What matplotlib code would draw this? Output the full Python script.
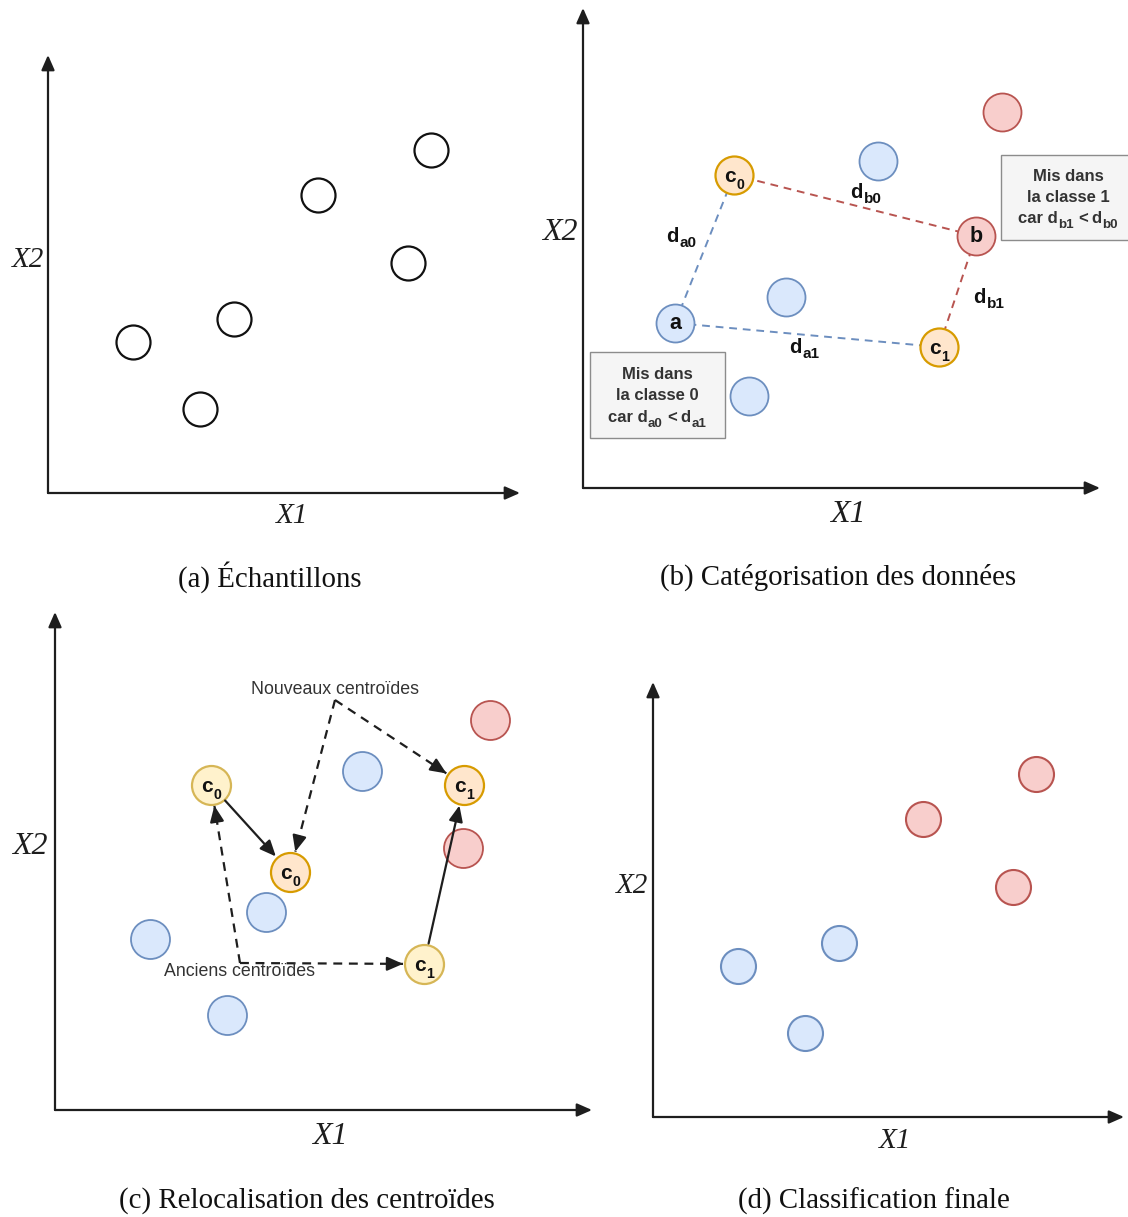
import matplotlib
matplotlib.use("Agg")
import numpy as np
import matplotlib.pyplot as plt
from matplotlib.patches import Rectangle

W, H, DPI = 1128, 1217, 100
PX = DPI / 72.0  # pixels per point

# ---- data (local X1 / X2 coordinates of each panel) ----
# (a) samples and (d) final classification share the same samples
sample_x1 = [85, 152, 186, 270, 360, 383]
sample_x2 = [151, 84, 174, 298, 230, 343]
final_class = [0, 0, 0, 1, 1, 1]

# (b) categorisation
b_blue_x1 = [295, 203, 166]
b_blue_x2 = [327, 191, 92]
b_red_x1 = [419]
b_red_x2 = [376]
point_a = (92, 165)
point_b = (393, 252)
b_c0 = (151, 313)
b_c1 = (356, 141)

# (c) relocation of centroids
c_blue_x1 = [307, 211, 95, 172]
c_blue_x2 = [339, 198, 171, 95]
c_red_x1 = [435, 408]
c_red_x2 = [390, 262]
old_c_x1 = [156, 369]
old_c_x2 = [325, 146]
new_c_x1 = [235, 409]
new_c_x2 = [238, 325]
nouveaux_pt = (280, 410)
anciens_pt = (185, 147)

captions = ["(a) Échantillons", "(b) Catégorisation des données",
            "(c) Relocalisation des centroïdes", "(d) Classification finale"]

BLUE_F, BLUE_E = '#dae8fc', '#6c8ebf'
RED_F, RED_E = '#f8cecc', '#b85450'
ORG_F, ORG_E = '#ffe6cc', '#d79b00'
YEL_F, YEL_E = '#fff2cc', '#d6b656'
AX_C = '#1e1e1e'
SANS = 'Liberation Sans'
SERIF = 'Liberation Serif'

fig = plt.figure(figsize=(W / DPI, H / DPI), dpi=DPI)
fig.patch.set_facecolor('white')
renderer = fig.canvas.get_renderer()


def make_panel(rect, origin):
    x0, y0, x1, y1 = rect
    ox, oy = origin
    ax = fig.add_axes([x0 / W, 1 - y1 / H, (x1 - x0) / W, (y1 - y0) / H])
    ax.set_xlim(x0 - ox, x1 - ox)
    ax.set_ylim(oy - y1, oy - y0)
    ax.axis('off')
    return ax


def draw_axes(ax, x_end, y_end, lab_x1, lab_x2, lab_size, cap_pos, caption):
    style = '-|>,head_length=0.75,head_width=0.33'
    for end in [(x_end, 0), (0, y_end)]:
        ax.annotate('', xy=end, xytext=(0, 0),
                    arrowprops=dict(arrowstyle=style, mutation_scale=12,
                                    lw=1.6, color=AX_C, shrinkA=0, shrinkB=0))
    ax.text(*lab_x1, 'X1', family=SERIF, style='italic',
            fontsize=lab_size, ha='center', va='center', color=AX_C)
    ax.text(*lab_x2, 'X2', family=SERIF, style='italic',
            fontsize=lab_size, ha='center', va='center', color=AX_C)
    ax.text(*cap_pos, caption, family=SERIF, fontsize=20.8,
            ha='center', va='center', color='#111111')


def runs_text(ax, x, y_base, runs, size, ratio=0.7, drop=0.32,
              color='#111111', weight='bold', z=6):
    """Write a line made of normal and subscript pieces, centred on x,
    with its baseline at y_base. Each run is (text, is_sub, gap_em)."""
    items = []
    total = 0.0
    for s, sub, gap in runs:
        fs = size * ratio if sub else size
        t = ax.annotate(s, xy=(x, y_base), xytext=(0, 0), textcoords='offset points',
                        fontsize=fs, family=SANS, fontweight=weight, color=color,
                        ha='left', va='baseline', zorder=z, annotation_clip=False)
        w = t.get_window_extent(renderer).width
        g = gap * size * PX
        items.append((t, sub, w, g))
        total += w + g
    cur = -total / 2
    for t, sub, w, g in items:
        dy = -drop * size if sub else 0.0
        t.set_position((cur / PX, dy))
        cur += w + g


def centroid_label(ax, cx, cy, idx, size=15):
    xh = 0.519 * size * PX
    runs_text(ax, cx, cy - xh / 2 - 1.5, [('c', False, 0.03), (str(idx), True, 0)],
              size, ratio=0.68, drop=0.33)


def s_of(r):
    return (2 * r * 72 / DPI) ** 2


def dots(ax, xs, ys, fc, ec, r, lw=1.3, z=3):
    ax.scatter(xs, ys, s=s_of(r), facecolor=fc, edgecolor=ec, linewidths=lw, zorder=z)


def arrow(ax, p0, p1, shrink_px, dashed=False):
    p0 = np.array(p0, float)
    p1 = np.array(p1, float)
    u = (p1 - p0) / np.linalg.norm(p1 - p0)
    end = p1 - u * shrink_px
    if dashed:
        ax.plot([p0[0], end[0]], [p0[1], end[1]], color=AX_C, lw=1.6,
                ls=(0, (4, 3)), zorder=2, solid_capstyle='butt')
        start = end - u * 12
    else:
        start = p0 + u * shrink_px
    ax.annotate('', xy=end, xytext=start,
                arrowprops=dict(arrowstyle='-|>,head_length=0.8,head_width=0.35',
                                mutation_scale=12, lw=1.6, color=AX_C,
                                shrinkA=0, shrinkB=0), zorder=4)


# ---- (a) ----
ax_a = make_panel((0, 0, 540, 600), (48, 493))
draw_axes(ax_a, 472, 438, (244, -23), (-20, 233), 21, (222, -84), captions[0])
dots(ax_a, sample_x1, sample_x2, 'white', '#111111', 17, lw=1.6)

# ---- (b) ----
ax_b = make_panel((540, 0, 1128, 600), (583, 488))
draw_axes(ax_b, 517, 480, (265, -26), (-23, 255), 23, (255, -89), captions[1])
dash = (0, (4, 3))
ax_b.plot([point_a[0], b_c0[0]], [point_a[1], b_c0[1]], color=BLUE_E, lw=1.4, ls=dash, zorder=1)
ax_b.plot([point_a[0], b_c1[0]], [point_a[1], b_c1[1]], color=BLUE_E, lw=1.4, ls=dash, zorder=1)
ax_b.plot([point_b[0], b_c0[0]], [point_b[1], b_c0[1]], color=RED_E, lw=1.4, ls=dash, zorder=1)
ax_b.plot([point_b[0], b_c1[0]], [point_b[1], b_c1[1]], color=RED_E, lw=1.4, ls=dash, zorder=1)
dots(ax_b, b_blue_x1, b_blue_x2, BLUE_F, BLUE_E, 19)
dots(ax_b, b_red_x1, b_red_x2, RED_F, RED_E, 19)
dots(ax_b, [point_a[0]], [point_a[1]], BLUE_F, BLUE_E, 19)
dots(ax_b, [point_b[0]], [point_b[1]], RED_F, RED_E, 19)
dots(ax_b, [b_c0[0], b_c1[0]], [b_c0[1], b_c1[1]], ORG_F, ORG_E, 19, lw=1.6)
ax_b.text(*point_a, 'a', fontsize=15.5, fontweight='bold', family=SANS,
          ha='center', va='center', zorder=5, color='#111111')
ax_b.text(*point_b, 'b', fontsize=15.5, fontweight='bold', family=SANS,
          ha='center', va='center', zorder=5, color='#111111')
centroid_label(ax_b, *b_c0, 0)
centroid_label(ax_b, *b_c1, 1)
for (lx, ly), sub in [((98, 246), 'a0'), ((283, 290), 'b0'),
                      ((406, 185), 'b1'), ((221, 135), 'a1')]:
    runs_text(ax_b, lx, ly, [('d', False, 0.05), (sub, True, 0)], 14.5,
              ratio=0.76, drop=0.27)

boxes = [
    ((418, 248, 135, 85), 485, [307, 286, 265], 'b1', 'b0', '1'),
    ((7, 50, 135, 86), 74, [109, 88, 66], 'a0', 'a1', '0'),
]
for (bx, by, bw, bh), tx, bases, s1, s2, cls in boxes:
    ax_b.add_patch(Rectangle((bx, by), bw, bh, facecolor='#f5f5f5', edgecolor='#8c8c8c',
                             lw=1.0, zorder=2, clip_on=False))
    kw = dict(size=12, ratio=0.8, drop=0.28, color='#333333')
    runs_text(ax_b, tx, bases[0], [('Mis dans', False, 0)], **kw)
    runs_text(ax_b, tx, bases[1], [('la classe ' + cls, False, 0)], **kw)
    runs_text(ax_b, tx, bases[2], [('car d', False, 0.04), (s1, True, 0.24),
                                   ('<', False, 0.24), ('d', False, 0.04),
                                   (s2, True, 0)], **kw)

# ---- (c) ----
ax_c = make_panel((0, 600, 610, 1217), (55, 1110))
draw_axes(ax_c, 537, 498, (275, -27), (-25, 264), 23, (252, -91), captions[2])
dots(ax_c, c_blue_x1, c_blue_x2, BLUE_F, BLUE_E, 19.5)
dots(ax_c, c_red_x1, c_red_x2, RED_F, RED_E, 19.5)
dots(ax_c, old_c_x1, old_c_x2, YEL_F, YEL_E, 19.5, lw=1.6)
dots(ax_c, new_c_x1, new_c_x2, ORG_F, ORG_E, 19.5, lw=1.6)
for i in range(2):
    centroid_label(ax_c, old_c_x1[i], old_c_x2[i], i)
    centroid_label(ax_c, new_c_x1[i], new_c_x2[i], i)
    arrow(ax_c, (old_c_x1[i], old_c_x2[i]), (new_c_x1[i], new_c_x2[i]), 21)
    arrow(ax_c, nouveaux_pt, (new_c_x1[i], new_c_x2[i]), 21, dashed=True)
    arrow(ax_c, anciens_pt, (old_c_x1[i], old_c_x2[i]), 21, dashed=True)
ax_c.text(280, 420, 'Nouveaux centroïdes', fontsize=12.8, family=SANS,
          color='#333333', ha='center', va='center', zorder=5)
ax_c.text(184, 138, 'Anciens centroïdes', fontsize=12.8, family=SANS,
          color='#333333', ha='center', va='center', zorder=5)

# ---- (d) ----
ax_d = make_panel((610, 600, 1128, 1217), (653, 1117))
draw_axes(ax_d, 471, 435, (242, -24), (-21, 231), 21, (221, -84), captions[3])
for cls, (fc, ec) in enumerate([(BLUE_F, BLUE_E), (RED_F, RED_E)]):
    xs = [x for x, c in zip(sample_x1, final_class) if c == cls]
    ys = [y for y, c in zip(sample_x2, final_class) if c == cls]
    dots(ax_d, xs, ys, fc, ec, 17.5, lw=1.5)

fig.savefig('out.png', dpi=DPI, facecolor='white')
